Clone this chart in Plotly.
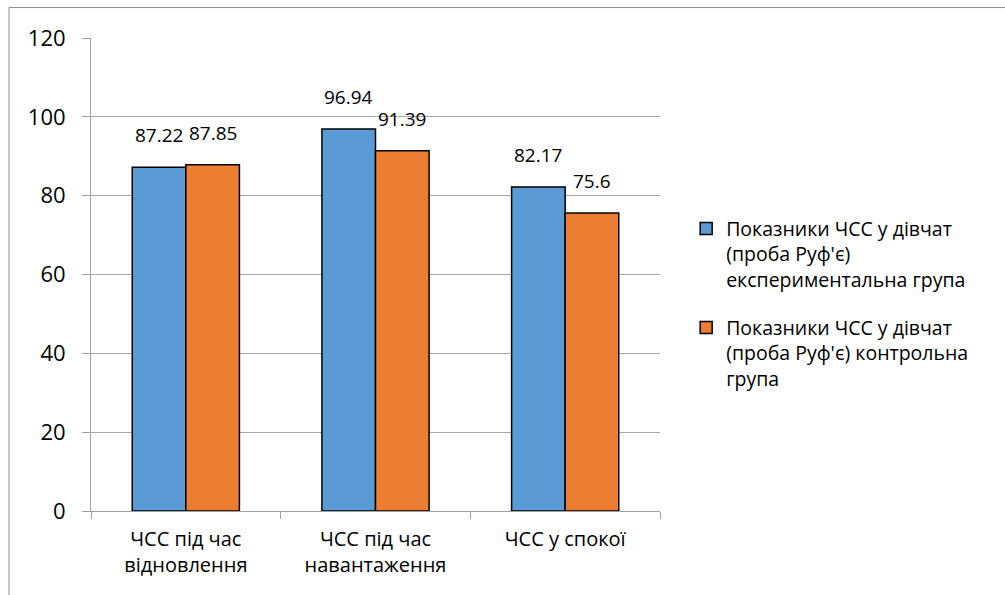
import plotly.graph_objects as go

# Heart-rate (ЧСС) values, Ruffier test, girls
categories = ["ЧСС під час<br>відновлення", "ЧСС під час<br>навантаження", "ЧСС у спокої"]
experimental = [87.22, 96.94, 82.17]
control = [87.85, 91.39, 75.6]
series_names = [
    "Показники ЧСС у дівчат<br>(проба Руф'є)<br>експериментальна група",
    "Показники ЧСС у дівчат<br>(проба Руф'є) контрольна<br>група",
]
y_ticks = [0, 20, 40, 60, 80, 100, 120]

FONT = "Open Sans"
BLUE = "#5b9bd5"
ORANGE = "#ed7d31"

L, R, T, B = 91, 345, 37.5, 84
W, H = 1005, 595
BARGAP = 0.435
plot_w = W - L - R
bar_px = plot_w / len(categories) * (1 - BARGAP) / 2

fig = go.Figure()
annotations = []
for i, (name, vals, color, grp) in enumerate(
    [(series_names[0], experimental, BLUE, "exp"), (series_names[1], control, ORANGE, "ctrl")]
):
    fig.add_trace(go.Bar(
        x=categories, y=vals, name=name, legendgroup=grp,
        marker=dict(color=color, line=dict(color="#000000", width=1.5)),
    ))
    shift = (i - 0.5) * bar_px
    for c, v in zip(categories, vals):
        annotations.append(dict(
            x=c, y=v, xref="x", yref="y", text=f"{v:g}", showarrow=False,
            xshift=shift, yshift=17, yanchor="bottom", xanchor="center",
            font=dict(family=FONT, size=19, color="#000000"),
        ))

fig.update_layout(
    width=W, height=H,
    margin=dict(l=L, r=R, t=T, b=B),
    paper_bgcolor="white", plot_bgcolor="white",
    barmode="group", bargap=BARGAP, bargroupgap=0,
    font=dict(family=FONT, color="#000000"),
    annotations=annotations,
    legend=dict(
        x=1.046, y=0.638, xanchor="left", yanchor="top",
        font=dict(family=FONT, size=19.5, color="#000000"),
        valign="top", tracegroupgap=20, itemwidth=30,
        bgcolor="rgba(0,0,0,0)",
    ),
    xaxis=dict(
        showline=True, linecolor="#a0a0a0", linewidth=1,
        ticks="outside", tickcolor="#a0a0a0", ticklen=7,
        tickson="boundaries", ticklabelstandoff=10,
        tickfont=dict(family=FONT, size=20, color="#000000"),
        showgrid=False,
    ),
    yaxis=dict(
        range=[0, 120], tickvals=y_ticks,
        showline=True, linecolor="#a0a0a0", linewidth=1,
        ticks="outside", tickcolor="#a0a0a0", ticklen=8,
        ticklabelstandoff=12,
        showgrid=True, gridcolor="#a6a6a6", gridwidth=1,
        tickfont=dict(family=FONT, size=22, color="#000000"),
        zeroline=False,
    ),
    shapes=[dict(
        type="rect", xref="paper", yref="paper",
        x0=-0.1441, x1=1.62, y0=-0.19, y1=1.0644,
        line=dict(color="#8c8c8c", width=1), fillcolor="rgba(0,0,0,0)", layer="below",
    )],
)

fig.write_html("out.html")
